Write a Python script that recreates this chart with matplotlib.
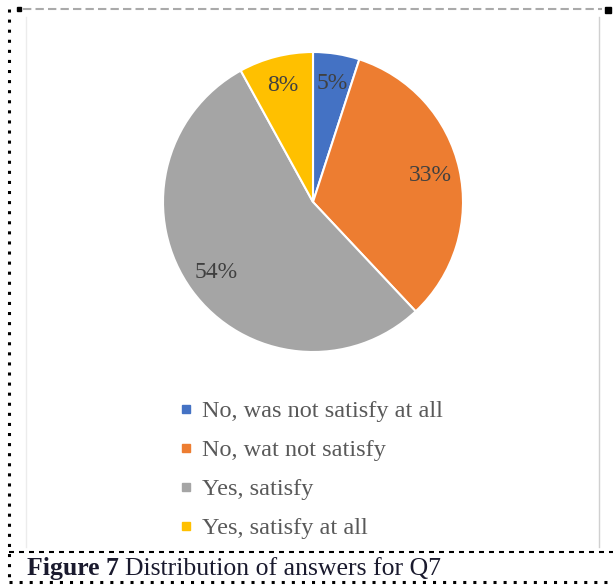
import matplotlib.pyplot as plt
from matplotlib.lines import Line2D

# answers for Q7
labels = ["No, was not satisfy at all", "No, wat not satisfy", "Yes, satisfy", "Yes, satisfy at all"]
shares = [5, 33, 54, 8]
colors = ["#4472C4", "#ED7D31", "#A5A5A5", "#FFC000"]

W, H = 613, 586
fig = plt.figure(figsize=(W / 100, H / 100), dpi=100)
plt.rcParams['font.family'] = ['Liberation Serif', 'DejaVu Serif']

# frame layer in pixel coords
bg = fig.add_axes([0, 0, 1, 1])
bg.set_xlim(0, W)
bg.set_ylim(H, 0)
bg.axis('off')
dots = dict(color='black', lw=2.2, linestyle=(0, (1, 2.3)), solid_capstyle='butt')
bg.plot([9, 9], [9, 582], **dots)
bg.plot([9, 613], [582, 582], **dots)
bg.plot([9, 613], [552, 552], color='black', lw=1.5, linestyle=(0, (2.4, 2.4)))
bg.plot([23, 602], [9, 9], color='#aaaaaa', lw=1.5, linestyle=(0, (4, 2)))
bg.plot([19], [9], 's', color='black', ms=3)
bg.plot([608], [10], 's', color='black', ms=4)
bg.plot([599, 599], [17, 547], color='#d0d0d0', lw=1)
bg.plot([26, 26], [17, 547], color='#ececec', lw=1)

# pie
cx, cy, r = 313, 202, 150
ax = fig.add_axes([(cx - r) / W, 1 - (cy + r) / H, 2 * r / W, 2 * r / H])
wedges, texts, autotexts = ax.pie(
    shares, colors=colors, startangle=90, counterclock=False,
    autopct='%1.0f%%', pctdistance=0.8,
    wedgeprops=dict(edgecolor='white', linewidth=1.5),
    textprops=dict(fontsize=17, color='#404040'))
ax.set_xlim(-1, 1)
ax.set_ylim(-1, 1)

handles = [Line2D([], [], marker='s', linestyle='none', color=c, markersize=6) for c in colors]
leg = fig.legend(handles, labels, loc='upper left', bbox_to_anchor=(180 / W, 1 - 400 / H),
                 frameon=False, fontsize=17.5, labelcolor='#595959',
                 handlelength=0.5, handletextpad=0.4, labelspacing=0.7,
                 borderpad=0, borderaxespad=0)

# caption
t1 = fig.text(27 / W, 1 - 569 / H, "Figure 7", fontsize=18.5, fontweight='bold',
              color='#1a1a2e', va='center')
fig.canvas.draw()
bb = t1.get_window_extent()
fig.text((bb.x1 + 6) / W, 1 - 569 / H, "Distribution of answers for Q7", fontsize=18.5,
         color='#1a1a2e', va='center')

fig.savefig("out.png", dpi=100)
